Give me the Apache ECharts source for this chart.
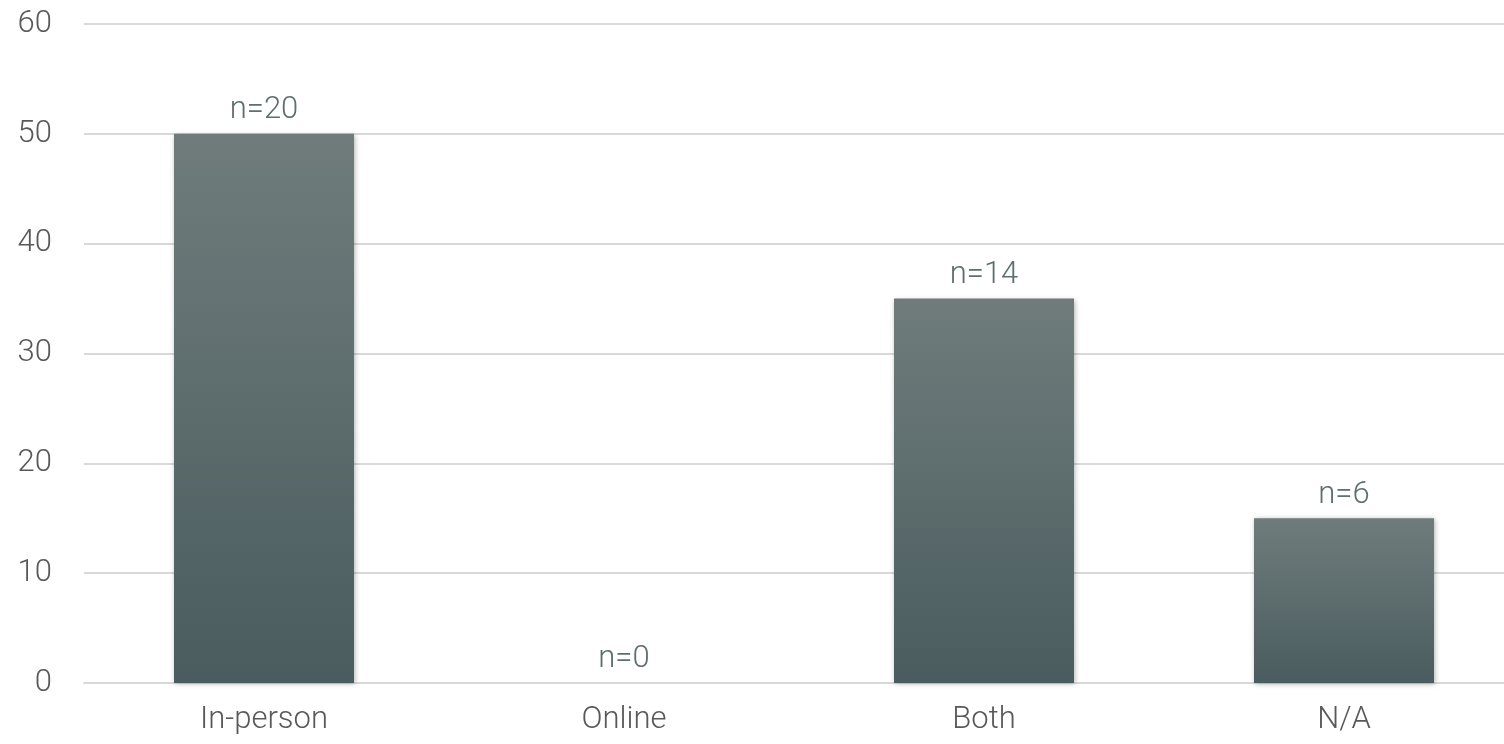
<!DOCTYPE html>
<html>
<head>
<meta charset="utf-8">
<style>html,body{margin:0;padding:0;background:#fff;overflow:hidden;width:1504px;height:744px;}#c{width:1524px;height:744px;}</style>
<script src="https://cdn.jsdelivr.net/npm/echarts@6/dist/echarts.min.js"></script>
</head>
<body>
<div id="c"></div>
<script>
var categories = ['In-person', 'Online', 'Both', 'N/A'];
var percentValues = [50, 0, 35, 15];
var counts = [20, 0, 14, 6];
var yTicks = [0, 10, 20, 30, 40, 50, 60];

var chart = echarts.init(document.getElementById('c'), null, {renderer: 'canvas'});
chart.setOption({
  animation: false,
  grid: {left: 84, top: 24, right: 0, bottom: 61, containLabel: false},
  xAxis: {
    type: 'category',
    data: categories,
    axisLine: {show: true, lineStyle: {color: '#d9d9d9', width: 2}},
    axisTick: {show: false},
    axisLabel: {color: '#595959', fontSize: 31, fontFamily: 'Roboto', fontWeight: 300, margin: 22}
  },
  yAxis: {
    type: 'value',
    min: yTicks[0],
    max: yTicks[yTicks.length - 1],
    interval: 10,
    axisLine: {show: false},
    axisTick: {show: false},
    splitLine: {lineStyle: {color: '#d9d9d9', width: 2}},
    axisLabel: {color: '#595959', fontSize: 31, fontFamily: 'Roboto', fontWeight: 300, margin: 32}
  },
  series: [{
    type: 'bar',
    data: percentValues,
    barWidth: '50%',
    itemStyle: {
      color: new echarts.graphic.LinearGradient(0, 0, 0, 1, [
        {offset: 0, color: '#6f7c7b'},
        {offset: 1, color: '#4a5c5f'}
      ]),
      shadowBlur: 5,
      shadowColor: 'rgba(0,0,0,0.3)',
      shadowOffsetX: 1,
      shadowOffsetY: 1
    },
    label: {
      show: true,
      position: 'top',
      distance: 8,
      color: '#5f6e6e',
      fontSize: 31,
      fontFamily: 'Roboto',
      fontWeight: 300,
      formatter: function (p) { return 'n=' + counts[p.dataIndex]; }
    }
  }]
});
</script>
</body>
</html>
